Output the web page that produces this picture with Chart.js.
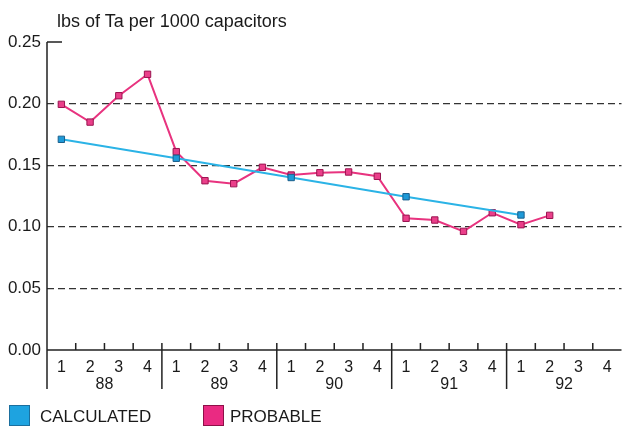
<!DOCTYPE html>
<html>
<head>
<meta charset="utf-8">
<script src="https://cdn.jsdelivr.net/npm/chart.js@4/dist/chart.umd.min.js"></script>
<style>
  body { margin: 0; background: #fff; }
  #wrap { position: relative; width: 627px; height: 430px; font-family: "Liberation Sans", Arial, sans-serif; color: #1a1a1a; }
  #title { position: absolute; left: 57px; top: 12px; font-size: 18px; line-height: 18px; white-space: nowrap; }
  .lg-box { position: absolute; top: 405px; width: 21px; height: 21px; box-sizing: border-box; }
  .lg-text { position: absolute; top: 406px; font-size: 17px; line-height: 22px; white-space: nowrap; }
</style>
</head>
<body>
<div id="wrap">
  <canvas id="chart" width="627" height="430"></canvas>
  <div id="title">lbs of Ta per 1000 capacitors</div>
  <div class="lg-box" style="left:9px; background:#1ea3e0; border:1px solid #1b6f9e;"></div>
  <div class="lg-text" style="left:40px;">CALCULATED</div>
  <div class="lg-box" style="left:203px; background:#ea2a82; border:1px solid #8e1048;"></div>
  <div class="lg-text" style="left:230px;">PROBABLE</div>
</div>
<script>
var quarters = ['1', '2', '3', '4', '1', '2', '3', '4', '1', '2', '3', '4', '1', '2', '3', '4', '1', '2', '3', '4'];
var years = ['88', '89', '90', '91', '92'];
var calculated = [0.171, null, null, null, 0.1556, null, null, null, 0.140, null, null, null, 0.1244, null, null, null, 0.1096, null, null, null];
var probable = [0.1994, 0.185, 0.2064, 0.2238, 0.161, 0.1374, 0.135, 0.1483, 0.142, 0.1439, 0.1445, 0.141, 0.1069, 0.1055, 0.0963, 0.1114, 0.1017, 0.1093, null, null];
var yTicks = [0, 0.05, 0.10, 0.15, 0.20, 0.25];

var FONT = '"Liberation Sans", Arial, sans-serif';
var INK = '#1a1a1a';

// axis lines, small quarter ticks and year separators
var axisDecor = {
    id: 'axisDecor',
    afterDraw: function (chart) {
        var ctx = chart.ctx;
        var area = chart.chartArea;
        var x = chart.scales.x;
        var y = chart.scales.y;
        var top = y.getPixelForValue(0.25);
        var base = y.getPixelForValue(0);
        var low = 389;
        ctx.save();
        ctx.strokeStyle = '#222';
        ctx.lineWidth = 1.5;
        ctx.beginPath();
        ctx.moveTo(area.left, top);
        ctx.lineTo(area.left, low);
        ctx.moveTo(area.left, top);
        ctx.lineTo(area.left + 15, top);
        ctx.moveTo(area.left, base);
        ctx.lineTo(area.right, base);
        for (var i = 1; i < quarters.length; i++) {
            var bx = (x.getPixelForTick(i - 1) + x.getPixelForTick(i)) / 2;
            ctx.moveTo(bx, base - 7);
            ctx.lineTo(bx, i % 4 === 0 ? low : base);
        }
        ctx.stroke();
        ctx.restore();
    }
};

new Chart(document.getElementById('chart'), {
    type: 'line',
    data: {
        labels: quarters,
        datasets: [{
            label: 'CALCULATED',
            data: calculated,
            spanGaps: true,
            borderColor: '#2bb3e6',
            borderWidth: 2,
            backgroundColor: '#1e9ad8',
            pointBorderColor: '#1b5f8c',
            pointBorderWidth: 1,
            pointStyle: 'rect',
            pointRadius: 4.5,
            tension: 0
        }, {
            label: 'PROBABLE',
            data: probable,
            borderColor: '#e8337f',
            borderWidth: 2,
            backgroundColor: '#ea3f8a',
            pointBorderColor: '#9a1450',
            pointBorderWidth: 1,
            pointStyle: 'rect',
            pointRadius: 4.5,
            tension: 0
        }]
    },
    options: {
        responsive: false,
        animation: false,
        devicePixelRatio: 1,
        layout: { padding: { top: 42, right: 0, bottom: 37, left: 0 } },
        plugins: {
            legend: { display: false },
            title: { display: false },
            tooltip: { enabled: false }
        },
        scales: {
            x: {
                type: 'category',
                offset: true,
                weight: 0,
                grid: { display: false, drawTicks: false, offset: true },
                border: { display: false },
                ticks: { color: INK, font: { family: FONT, size: 16, lineHeight: 1 }, padding: 10, maxRotation: 0, autoSkip: false },
                afterFit: function (scale) { scale.height = 26; }
            },
            x2: {
                type: 'category',
                labels: years,
                offset: true,
                position: 'bottom',
                weight: 1,
                grid: { display: false, drawTicks: false },
                border: { display: false },
                ticks: { color: INK, font: { family: FONT, size: 16, lineHeight: 1 }, padding: 1, maxRotation: 0 },
                afterFit: function (scale) { scale.height = 17; }
            },
            y: {
                min: 0,
                max: 0.25,
                afterBuildTicks: function (scale) {
                    scale.ticks = yTicks.map(function (v) { return { value: v }; });
                },
                ticks: {
                    color: INK,
                    font: { family: FONT, size: 17 },
                    padding: 6,
                    callback: function (v) { return v.toFixed(2); }
                },
                grid: {
                    drawTicks: false,
                    lineWidth: 1.2,
                    color: function (c) {
                        var v = c.tick ? c.tick.value : 0;
                        return (v > 0.001 && v < 0.249) ? '#333' : 'rgba(0,0,0,0)';
                    }
                },
                border: { display: false, dash: [7, 4] },
                afterFit: function (scale) { scale.width = 47; }
            }
        }
    },
    plugins: [axisDecor]
});
</script>
</body>
</html>
